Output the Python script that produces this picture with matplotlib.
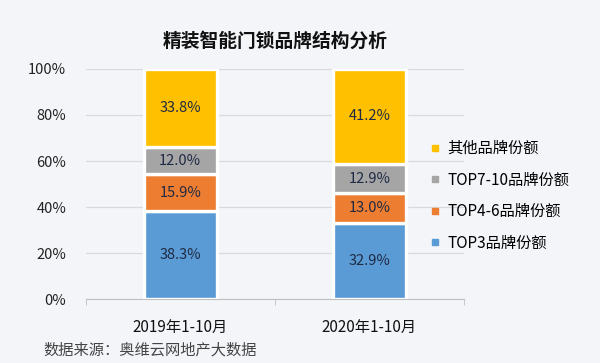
import matplotlib.pyplot as plt
from matplotlib.lines import Line2D

plt.rcParams['font.family'] = ['Noto Sans CJK SC', 'DejaVu Sans']

periods = ['2019年1-10月', '2020年1-10月']
series = ['TOP3品牌份额', 'TOP4-6品牌份额', 'TOP7-10品牌份额', '其他品牌份额']
top3 = [38.3, 32.9]
top4_6 = [15.9, 13.0]
top7_10 = [12.0, 12.9]
others = [33.8, 41.2]
colors = ['#5B9BD5', '#ED7D31', '#A5A5A5', '#FFC000']
bg = '#F3F5F9'

fig = plt.figure(figsize=(6, 3.63), dpi=100, facecolor=bg)
ax = fig.add_axes([0.143, 0.176, 0.63, 0.634], facecolor=bg)

x = list(range(len(periods)))
bottom = [0, 0]
for vals, c in zip([top3, top4_6, top7_10, others], colors):
    bars = ax.bar(x, vals, 0.386, bottom=bottom, color=c, edgecolor='white',
                  linewidth=2.4, zorder=3)
    for b, v, b0 in zip(bars, vals, bottom):
        ax.text(b.get_x() + b.get_width() / 2, b0 + v / 2, f'{v:.1f}%',
                ha='center', va='center', fontsize=10.5, color='#1F2A44', zorder=4)
    bottom = [p + v for p, v in zip(bottom, vals)]

ax.set_xlim(-0.5, 1.5)
ax.set_ylim(0, 100)
ax.set_yticks(range(0, 101, 20))
ax.set_yticklabels([f'{t}%' for t in range(0, 101, 20)], fontsize=10.5, color='#222222')
ax.set_xticks(x)
ax.set_xticklabels(periods, fontsize=11, color='#111111', fontweight='medium')
ax.set_xticks([-0.5, 0.5, 1.5], minor=True)
ax.tick_params(axis='x', which='major', length=0, pad=14)
ax.tick_params(axis='x', which='minor', length=4, color='#BFBFBF')
ax.tick_params(axis='y', length=0, pad=14)
ax.grid(axis='y', color='#D9D9D9', linewidth=0.9, zorder=0)
for s in ['top', 'right', 'left']:
    ax.spines[s].set_visible(False)
ax.spines['bottom'].set_color('#BFBFBF')

handles = [Line2D([], [], marker='s', linestyle='none', markersize=4.5,
                  color=c) for c in colors[::-1]]
fig.legend(handles, series[::-1], loc='center left', bbox_to_anchor=(0.69, 0.46),
           frameon=False, fontsize=11, labelspacing=0.95, handletextpad=0.3,
           handlelength=1.0, prop={'size': 11, 'weight': 'medium'})

fig.text(0.458, 0.885, '精装智能门锁品牌结构分析', ha='center', va='center',
         fontsize=13.5, fontweight='bold', color='#111111')
fig.text(0.073, 0.035, '数据来源：奥维云网地产大数据', ha='left', va='center',
         fontsize=11, color='#444444')

fig.savefig('out.png', dpi=100, facecolor=bg)
